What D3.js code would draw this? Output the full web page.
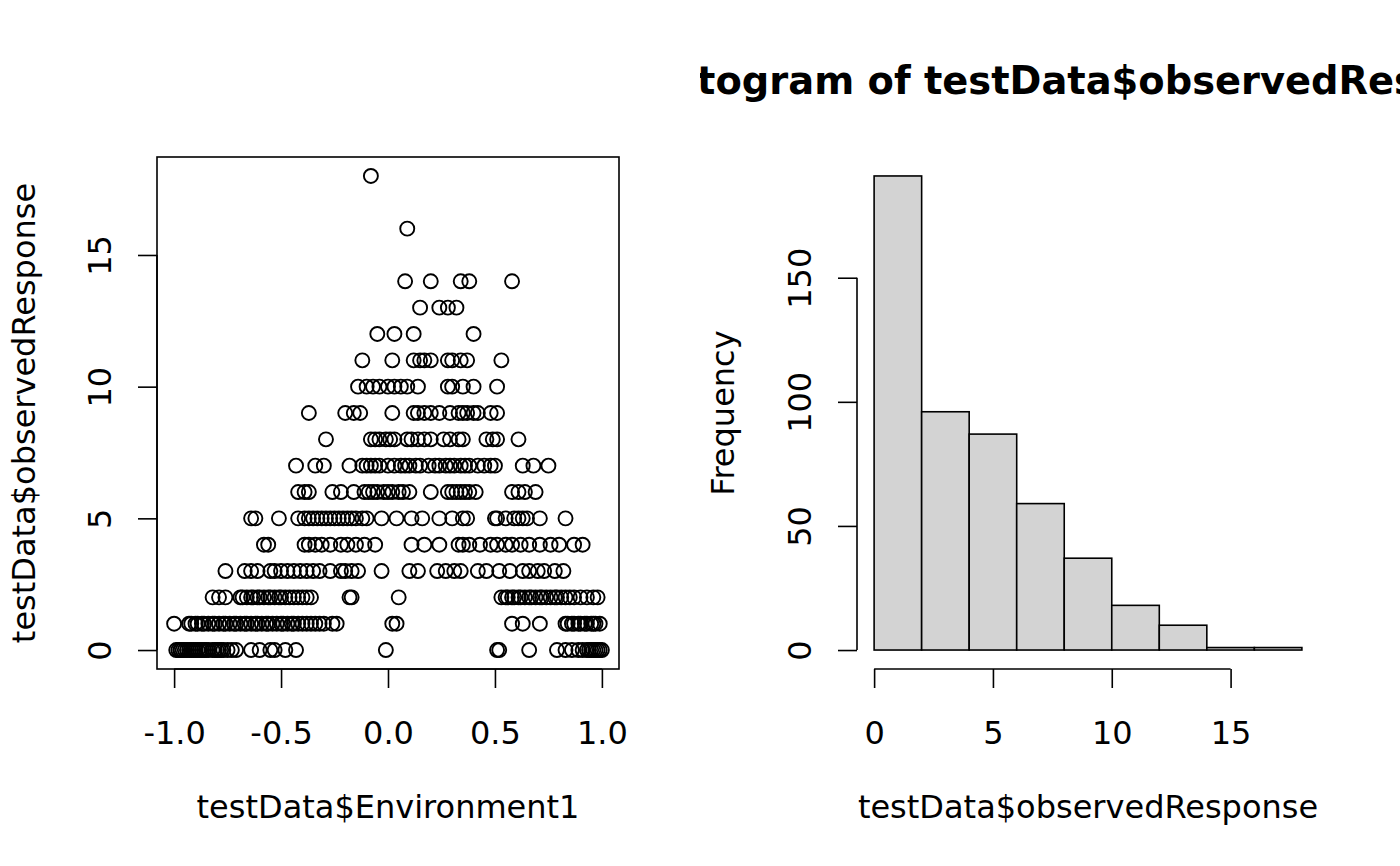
<!DOCTYPE html>
<html>
<head>
<meta charset="utf-8">
<script src="https://cdn.jsdelivr.net/npm/d3@7"></script>
<style>
  body { margin: 0; background: #fff; }
  text { font-family: "DejaVu Sans", sans-serif; fill: #000; }
</style>
</head>
<body>
<div id="chart"></div>
<script>
const envResp0 = [-0.99, -0.98, -0.97, -0.97, -0.96, -0.95, -0.94, -0.93, -0.92, -0.91, -0.90, -0.89, -0.88, -0.87,
    -0.86, -0.85, -0.84, -0.82, -0.81, -0.80, -0.79, -0.78, -0.77, -0.75, -0.73, -0.71, -0.64, -0.60, -0.55,
    -0.53, -0.48, -0.43, -0.01, 0.51, 0.52, 0.66, 0.79, 0.83, 0.86, 0.89, 0.91, 0.93, 0.94, 0.95, 0.96, 0.97,
    0.98, 0.99, 1.00];
const envResp1 = [-1.00, -0.93, -0.92, -0.90, -0.89, -0.87, -0.86, -0.84, -0.82, -0.81, -0.79, -0.77, -0.76, -0.74,
    -0.72, -0.71, -0.69, -0.67, -0.66, -0.64, -0.62, -0.61, -0.59, -0.57, -0.56, -0.54, -0.52, -0.50, -0.49,
    -0.47, -0.45, -0.44, -0.42, -0.40, -0.38, -0.36, -0.34, -0.32, -0.30, -0.26, -0.24, 0.02, 0.04, 0.58, 0.63,
    0.71, 0.83, 0.84, 0.86, 0.87, 0.89, 0.90, 0.92, 0.93, 0.95, 0.96, 0.97, 0.99];
const envResp2 = [-0.82, -0.79, -0.76, -0.69, -0.68, -0.66, -0.64, -0.63, -0.61, -0.60, -0.58, -0.56, -0.55, -0.53,
    -0.51, -0.50, -0.48, -0.46, -0.44, -0.42, -0.40, -0.38, -0.36, -0.18, -0.17, 0.05, 0.53, 0.55, 0.56, 0.58,
    0.59, 0.61, 0.62, 0.64, 0.66, 0.67, 0.69, 0.71, 0.72, 0.74, 0.76, 0.78, 0.79, 0.81, 0.83, 0.85, 0.87,
    0.90, 0.93, 0.96, 0.98];
const envResp3 = [-0.76, -0.67, -0.64, -0.61, -0.55, -0.53, -0.50, -0.47, -0.44, -0.41, -0.38, -0.35, -0.32, -0.27,
    -0.22, -0.20, -0.17, -0.14, -0.03, 0.10, 0.14, 0.23, 0.27, 0.31, 0.34, 0.42, 0.46, 0.52, 0.57, 0.63, 0.66,
    0.70, 0.73, 0.78, 0.82];
const envResp4 = [-0.58, -0.56, -0.39, -0.37, -0.34, -0.31, -0.27, -0.22, -0.19, -0.15, -0.11, -0.06, 0.11, 0.17,
    0.24, 0.33, 0.35, 0.38, 0.43, 0.48, 0.51, 0.55, 0.58, 0.62, 0.66, 0.71, 0.76, 0.80, 0.87, 0.91];
const envResp5 = [-0.64, -0.62, -0.51, -0.42, -0.39, -0.37, -0.35, -0.33, -0.31, -0.29, -0.27, -0.25, -0.23, -0.21,
    -0.19, -0.17, -0.15, -0.12, -0.10, -0.03, 0.04, 0.11, 0.16, 0.24, 0.30, 0.35, 0.37, 0.50, 0.51, 0.55, 0.59,
    0.61, 0.63, 0.65, 0.71, 0.83];
const envResp6 = [-0.42, -0.39, -0.37, -0.26, -0.22, -0.16, -0.11, -0.09, -0.07, -0.05, -0.02, 0.00, 0.02, 0.05,
    0.07, 0.10, 0.20, 0.28, 0.30, 0.32, 0.34, 0.36, 0.38, 0.41, 0.58, 0.61, 0.64, 0.69];
const envResp7 = [-0.43, -0.34, -0.30, -0.18, -0.12, -0.10, -0.08, -0.06, -0.04, 0.00, 0.03, 0.06, 0.08, 0.10,
    0.13, 0.15, 0.19, 0.22, 0.24, 0.27, 0.29, 0.31, 0.34, 0.36, 0.38, 0.42, 0.45, 0.48, 0.50, 0.63, 0.68, 0.75];
const envResp8 = [-0.29, -0.08, -0.06, -0.04, -0.01, 0.01, 0.03, 0.09, 0.11, 0.14, 0.17, 0.20, 0.26, 0.29, 0.33,
    0.35, 0.46, 0.49, 0.51, 0.61];
const envResp9 = [-0.37, -0.20, -0.16, -0.13, 0.02, 0.12, 0.14, 0.17, 0.20, 0.24, 0.29, 0.33, 0.35, 0.37, 0.40,
    0.42, 0.48, 0.51];
const envResp10 = [-0.14, -0.10, -0.07, -0.04, 0.00, 0.03, 0.06, 0.09, 0.14, 0.28, 0.30, 0.35, 0.40, 0.51];
const envResp11 = [-0.12, 0.02, 0.12, 0.15, 0.17, 0.20, 0.28, 0.30, 0.34, 0.37, 0.53];
const envResp12 = [-0.05, 0.03, 0.12, 0.40];
const envResp13 = [0.15, 0.24, 0.28, 0.32];
const envResp14 = [0.08, 0.20, 0.34, 0.38, 0.58];
const envResp16 = [0.09];
const envResp18 = [-0.08];

// Histogram of observedResponse (breaks every 2)
const binEdges = [0, 2, 4, 6, 8, 10, 12, 14, 16, 18];
const binCounts = [191, 96, 87, 59, 37, 18, 10, 1, 1];

const scatterXTicks = [-1, -0.5, 0, 0.5, 1];
const scatterYTicks = [0, 5, 10, 15];
const histXTicks = [0, 5, 10, 15];
const histYTicks = [0, 50, 100, 150];

const histTitle = "Histogram of testData$observedResponse";
const scatterXLabel = "testData$Environment1";
const scatterYLabel = "testData$observedResponse";
const histXLabel = "testData$observedResponse";
const histYLabel = "Frequency";

const levels = [
    [0, envResp0], [1, envResp1], [2, envResp2], [3, envResp3], [4, envResp4], [5, envResp5],
    [6, envResp6], [7, envResp7], [8, envResp8], [9, envResp9], [10, envResp10], [11, envResp11],
    [12, envResp12], [13, envResp13], [14, envResp14], [16, envResp16], [18, envResp18]
];
const points = levels.flatMap(([y, xs]) => xs.map(x => ({ x: x, y: y })));

const width = 1400, height = 866;
const fontSize = 32;
const lw = 1.6;

// R style: 4% padding on each side of the data range
function padded(lo, hi) {
    const p = (hi - lo) * 0.04;
    return [lo - p, hi + p];
}

const svg = d3.select("#chart").append("svg")
    .attr("width", width)
    .attr("height", height);

svg.append("rect").attr("width", width).attr("height", height).attr("fill", "#fff");

// plot regions of the two panels
const left = { x0: 157, x1: 619, y0: 157, y1: 669 };
const right = { x0: 857, x1: 1319, y0: 157, y1: 669 };

function bottomAxis(g, scale, ticks, fmt, yPos) {
    const ax = g.append("g").attr("transform", `translate(0,${yPos})`)
        .call(d3.axisBottom(scale).tickValues(ticks).tickSize(19).tickSizeOuter(0).tickFormat(fmt));
    ax.select(".domain").remove();
    ax.append("line")
        .attr("x1", scale(ticks[0])).attr("x2", scale(ticks[ticks.length - 1]))
        .attr("stroke", "#000").attr("stroke-width", lw);
    ax.selectAll(".tick line").attr("stroke", "#000").attr("stroke-width", lw);
    ax.selectAll(".tick text")
        .attr("y", 75).attr("dy", 0)
        .style("font-size", fontSize + "px")
        .style("font-family", "DejaVu Sans")
        .attr("fill", "#000");
}

function leftAxis(g, scale, ticks, xPos) {
    const ax = g.append("g").attr("transform", `translate(${xPos},0)`)
        .call(d3.axisLeft(scale).tickValues(ticks).tickSize(19).tickSizeOuter(0).tickFormat(d => String(d)));
    ax.select(".domain").remove();
    ax.append("line")
        .attr("y1", scale(ticks[0])).attr("y2", scale(ticks[ticks.length - 1]))
        .attr("stroke", "#000").attr("stroke-width", lw);
    ax.selectAll(".tick line").attr("stroke", "#000").attr("stroke-width", lw);
    ax.selectAll(".tick text")
        .attr("x", 0).attr("y", -46).attr("dy", 0)
        .attr("transform", "rotate(-90)")
        .attr("text-anchor", "middle")
        .style("font-size", fontSize + "px")
        .style("font-family", "DejaVu Sans")
        .attr("fill", "#000");
}

// ---- scatter panel ----
const sx = d3.scaleLinear()
    .domain(padded(d3.min(points, d => d.x), d3.max(points, d => d.x)))
    .range([left.x0, left.x1]);
const sy = d3.scaleLinear()
    .domain(padded(d3.min(points, d => d.y), d3.max(points, d => d.y)))
    .range([left.y1, left.y0]);

const scatter = svg.append("g");
scatter.append("g").selectAll("circle")
    .data(points)
    .enter().append("circle")
    .attr("cx", d => sx(d.x))
    .attr("cy", d => sy(d.y))
    .attr("r", 7)
    .attr("fill", "none")
    .attr("stroke", "#000")
    .attr("stroke-width", 1.9);

scatter.append("rect")
    .attr("x", left.x0).attr("y", left.y0)
    .attr("width", left.x1 - left.x0).attr("height", left.y1 - left.y0)
    .attr("fill", "none").attr("stroke", "#000").attr("stroke-width", lw);

bottomAxis(scatter, sx, scatterXTicks, d => d.toFixed(1), left.y1);
leftAxis(scatter, sy, scatterYTicks, left.x0);

scatter.append("text")
    .attr("x", (left.x0 + left.x1) / 2).attr("y", 818)
    .attr("text-anchor", "middle")
    .style("font-size", fontSize + "px")
    .text(scatterXLabel);
scatter.append("text")
    .attr("transform", `translate(34.5,${(left.y0 + left.y1) / 2}) rotate(-90)`)
    .attr("text-anchor", "middle")
    .style("font-size", fontSize + "px")
    .text(scatterYLabel);

// ---- histogram panel ----
const hx = d3.scaleLinear()
    .domain(padded(binEdges[0], binEdges[binEdges.length - 1]))
    .range([right.x0, right.x1]);
const hy = d3.scaleLinear()
    .domain(padded(0, d3.max(binCounts)))
    .range([right.y1, right.y0]);

const bins = binCounts.map((c, i) => ({ lo: binEdges[i], hi: binEdges[i + 1], count: c }));

const hist = svg.append("g");
hist.append("g").selectAll("rect")
    .data(bins)
    .enter().append("rect")
    .attr("x", d => hx(d.lo))
    .attr("y", d => hy(d.count))
    .attr("width", d => hx(d.hi) - hx(d.lo))
    .attr("height", d => hy(0) - hy(d.count))
    .attr("fill", "#d3d3d3")
    .attr("stroke", "#000")
    .attr("stroke-width", lw);

bottomAxis(hist, hx, histXTicks, d => String(d), right.y1);
leftAxis(hist, hy, histYTicks, right.x0);

hist.append("text")
    .attr("x", (right.x0 + right.x1) / 2).attr("y", 818)
    .attr("text-anchor", "middle")
    .style("font-size", fontSize + "px")
    .text(histXLabel);
hist.append("text")
    .attr("transform", `translate(734,${(right.y0 + right.y1) / 2}) rotate(-90)`)
    .attr("text-anchor", "middle")
    .style("font-size", fontSize + "px")
    .text(histYLabel);

// title is clipped to the right figure region, as R does
svg.append("defs").append("clipPath").attr("id", "fig-right")
    .append("rect").attr("x", 700).attr("y", 0).attr("width", 700).attr("height", height);
hist.append("text")
    .attr("clip-path", "url(#fig-right)")
    .attr("x", (right.x0 + right.x1) / 2).attr("y", 94)
    .attr("text-anchor", "middle")
    .style("font-size", (fontSize * 1.2) + "px")
    .style("font-weight", "bold")
    .text(histTitle);
</script>
</body>
</html>
